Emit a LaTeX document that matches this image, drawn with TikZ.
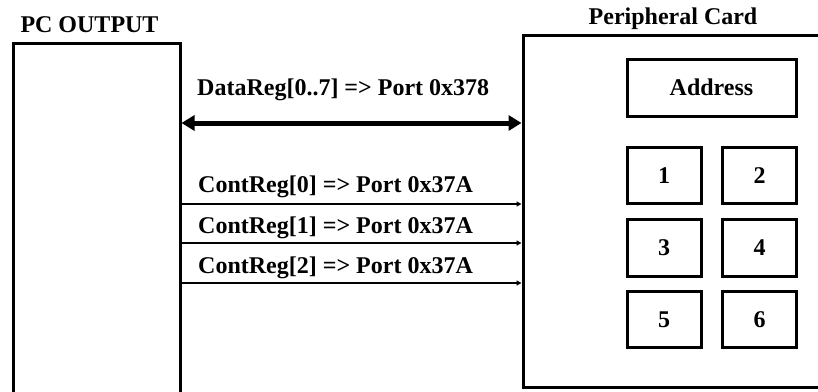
\documentclass[tikz,border=0pt]{standalone}
\usepackage{fontspec}
\setmainfont{Liberation Serif}
\usetikzlibrary{arrows.meta}
\tikzset{
  bigbox/.style={draw, line width=3pt, rectangle, inner sep=0pt},
  smallbox/.style={draw, line width=3pt, rectangle, inner sep=0pt, font=\fontsize{24}{28}\bfseries\selectfont},
  boxtext/.style={inner sep=0pt, font=\fontsize{24}{28}\bfseries\selectfont},
  lbl/.style={inner sep=0pt, font=\fontsize{24}{28}\bfseries\selectfont},
  databus/.style={line width=5pt, {Triangle[length=13pt,width=15pt]}-{Triangle[length=13pt,width=15pt]}},
  ctrl/.style={line width=1.8pt, -{Triangle[length=5pt,width=5pt]}}
}
\begin{document}
\begin{tikzpicture}[x=1pt,y=-1pt]
\useasboundingbox (0,0) rectangle (818,391);
\clip (0,0) rectangle (818,391);
\fill[white] (0,0) rectangle (818,391);
% main boxes
\node[bigbox, minimum width=167pt, minimum height=377pt] (pc) at (96.5,231.5) {};
\node[bigbox, minimum width=307pt, minimum height=352pt] (card) at (676.5,211) {};
% titles
\node[lbl, anchor=base] (pct) at (89.5,32.5) {PC OUTPUT};
\node[lbl, anchor=base] (cardt) at (673,24) {Peripheral Card};
% inner boxes
\node[smallbox, minimum width=169pt, minimum height=57pt] (addr) at (711.5,87.5) {};
\node[smallbox, minimum width=74pt, minimum height=56pt] (b1) at (664,175) {};
\node[smallbox, minimum width=74pt, minimum height=56pt] (b2) at (759.5,175) {};
\node[smallbox, minimum width=74pt, minimum height=57pt] (b3) at (664,247.5) {};
\node[smallbox, minimum width=74pt, minimum height=57pt] (b4) at (759.5,247.5) {};
\node[smallbox, minimum width=74pt, minimum height=56pt] (b5) at (664,319) {};
\node[smallbox, minimum width=74pt, minimum height=56pt] (b6) at (759.5,319) {};
\node[boxtext, anchor=base] (taddr) at ([yshift=-8pt]addr.center) {Address};
\node[boxtext, anchor=base] (t1) at ([yshift=-8pt]b1.center) {1};
\node[boxtext, anchor=base] (t2) at ([yshift=-8pt]b2.center) {2};
\node[boxtext, anchor=base] (t3) at ([yshift=-8pt]b3.center) {3};
\node[boxtext, anchor=base] (t4) at ([yshift=-8pt]b4.center) {4};
\node[boxtext, anchor=base] (t5) at ([yshift=-8pt]b5.center) {5};
\node[boxtext, anchor=base] (t6) at ([yshift=-8pt]b6.center) {6};
% connectors
\draw[databus] (pc.east |- 0,123) -- (card.west |- 0,123);
\draw[ctrl] (pc.east |- 0,204) -- (card.west |- 0,204);
\draw[ctrl] (pc.east |- 0,243) -- (card.west |- 0,243);
\draw[ctrl] (pc.east |- 0,283) -- (card.west |- 0,283);
% labels
\node[lbl, anchor=base west] (ldata) at (197,95) {DataReg[0..7] => Port 0x378};
\node[lbl, anchor=base west] (lc0) at (198,192) {ContReg[0] => Port 0x37A};
\node[lbl, anchor=base west] (lc1) at (198,233) {ContReg[1] => Port 0x37A};
\node[lbl, anchor=base west] (lc2) at (198,273) {ContReg[2] => Port 0x37A};
\end{tikzpicture}
\end{document}
